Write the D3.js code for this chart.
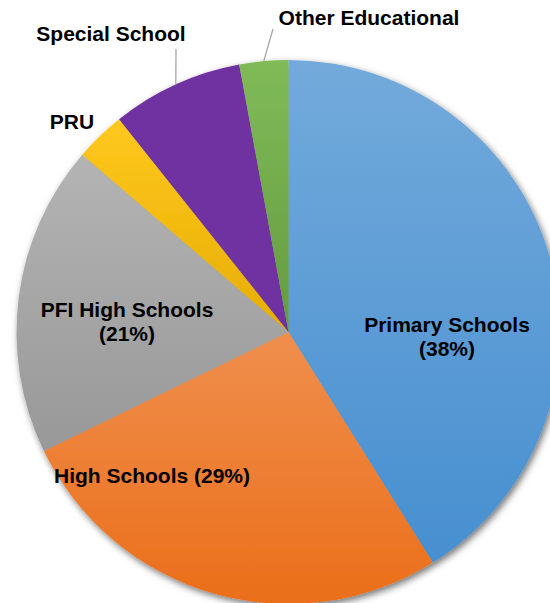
<!DOCTYPE html>
<html>
    <head>
        <script src="https://cdn.jsdelivr.net/npm/d3@7"></script>
        <style>
            body { margin: 0; background: #fff; }
            svg { display: block; }
            text {
                font-family: "Liberation Sans", Arial, sans-serif;
                font-weight: bold;
                font-size: 21px;
                fill: #000;
            }
        </style>
    </head>
    <body>
        <svg width="550" height="603"></svg>
    </body>
    <script>
        // slice shares (labels keep the printed percentages)
        const categories = ["Primary Schools", "High Schools", "PFI High Schools", "PRU", "Special School", "Other Educational"];
        const shares = [41.1, 26.7, 18.5, 3.0, 7.8, 2.9];
        const labelLines = [
            ["Primary Schools", "(38%)"],
            ["High Schools (29%)"],
            ["PFI High Schools", "(21%)"],
            ["PRU"],
            ["Special School"],
            ["Other Educational"]
        ];
        const colors = ["#5b9bd5", "#ed7d31", "#a5a5a5", "#ffc000", "#7030a0", "#70ad47"];

        // label layout: text centre x, first baseline y, whether a leader line is drawn
        const labelPos = [
            { x: 447, y: 332, leader: false },
            { x: 152, y: 483, leader: false },
            { x: 127, y: 317, leader: false },
            { x: 72, y: 129, leader: false },
            { x: 111, y: 41, leader: [176, 49] },
            { x: 369, y: 25, leader: [273, 29] }
        ];

        const cx = 288.5, cy = 332, r = 272;
        const svg = d3.select("svg");
        const defs = svg.append("defs");

        const shadow = defs.append("filter").attr("id", "shadow")
            .attr("x", "-10%").attr("y", "-10%").attr("width", "120%").attr("height", "120%");
        shadow.append("feDropShadow")
            .attr("dx", 2).attr("dy", 3)
            .attr("stdDeviation", 3.5)
            .attr("flood-color", "#000")
            .attr("flood-opacity", 0.55);

        colors.forEach((c, i) => {
            const g = defs.append("linearGradient").attr("id", "grad" + i)
                .attr("x1", 0).attr("y1", 0).attr("x2", 0).attr("y2", 1);
            const base = d3.hsl(c);
            const top = d3.hsl(base); top.l = Math.min(1, base.l + 0.06);
            const bot = d3.hsl(base); bot.l = base.l - 0.05;
            g.append("stop").attr("offset", "0%").attr("stop-color", i === 4 ? c : top.formatHex());
            g.append("stop").attr("offset", "100%").attr("stop-color", i === 4 ? c : bot.formatHex());
        });

        const pie = d3.pie().sort(null).value(d => d);
        const arcs = pie(shares);
        const arc = d3.arc().innerRadius(0).outerRadius(r);

        const g = svg.append("g").attr("transform", `translate(${cx},${cy})`);

        g.append("g").attr("filter", "url(#shadow)")
            .selectAll("path")
            .data(arcs)
            .join("path")
                .attr("d", arc)
                .attr("fill", (d, i) => `url(#grad${i})`);

        // leader lines: from label to slice edge at the mid angle
        arcs.forEach((d, i) => {
            const p = labelPos[i];
            if (!p.leader) return;
            const mid = (d.startAngle + d.endAngle) / 2;
            svg.append("line")
                .attr("x1", p.leader[0]).attr("y1", p.leader[1])
                .attr("x2", cx + r * Math.sin(mid))
                .attr("y2", cy - r * Math.cos(mid))
                .attr("stroke", "#a6a6a6")
                .attr("stroke-width", 1.3);
        });

        const labels = svg.append("g")
            .selectAll("text")
            .data(labelLines)
            .join("text")
                .attr("text-anchor", "middle")
                .attr("x", (d, i) => labelPos[i].x)
                .attr("y", (d, i) => labelPos[i].y);

        labels.selectAll("tspan")
            .data((d, i) => d.map(t => ({ t, x: labelPos[i].x })))
            .join("tspan")
                .attr("x", d => d.x)
                .attr("dy", (d, j) => j === 0 ? 0 : 24)
                .text(d => d.t);
    </script>
</html>
